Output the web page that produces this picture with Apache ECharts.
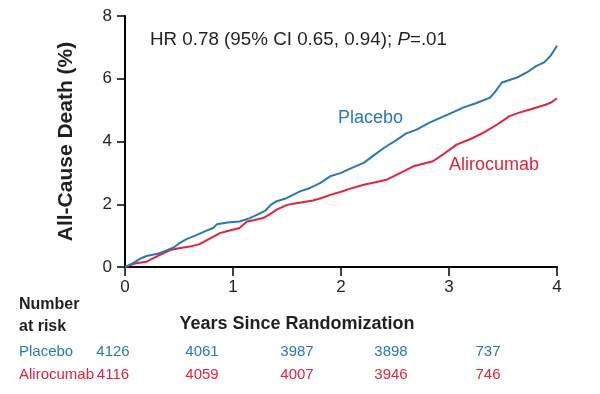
<!DOCTYPE html>
<html>
<head>
<meta charset="utf-8">
<script src="https://cdn.jsdelivr.net/npm/echarts@6/dist/echarts.min.js"></script>
<style>
html,body{margin:0;padding:0;background:#fff;}
#chart{width:600px;height:394px;}
</style>
</head>
<body>
<div id="chart"></div>
<script>
// ---- Data ----
var placeboCurve = [
  [0,0],[0.05,0.08],[0.1,0.18],[0.15,0.28],[0.2,0.35],[0.3,0.42],[0.39,0.54],[0.45,0.62],
  [0.5,0.75],[0.57,0.89],[0.65,1.0],[0.75,1.15],[0.82,1.25],[0.85,1.36],[0.95,1.42],[1.06,1.45],
  [1.15,1.55],[1.22,1.66],[1.3,1.8],[1.35,1.98],[1.4,2.09],[1.5,2.2],[1.62,2.41],[1.7,2.5],
  [1.81,2.68],[1.9,2.89],[2.0,3.0],[2.08,3.13],[2.21,3.32],[2.3,3.55],[2.4,3.8],[2.52,4.06],
  [2.6,4.25],[2.7,4.38],[2.82,4.6],[2.95,4.8],[3.05,4.95],[3.13,5.08],[3.25,5.22],[3.38,5.4],
  [3.43,5.6],[3.49,5.88],[3.63,6.04],[3.72,6.2],[3.81,6.41],[3.88,6.52],[3.94,6.73],[4.0,7.05]
];
var alirocumabCurve = [
  [0,0],[0.05,0.06],[0.1,0.12],[0.2,0.17],[0.3,0.35],[0.42,0.54],[0.5,0.6],[0.6,0.65],
  [0.69,0.73],[0.78,0.9],[0.88,1.08],[0.95,1.15],[1.06,1.24],[1.13,1.45],[1.2,1.5],[1.28,1.56],
  [1.35,1.7],[1.4,1.82],[1.5,1.98],[1.6,2.04],[1.74,2.12],[1.82,2.2],[1.9,2.3],[2.0,2.4],
  [2.08,2.49],[2.21,2.62],[2.32,2.7],[2.42,2.78],[2.55,3.0],[2.67,3.21],[2.77,3.3],[2.85,3.37],
  [2.95,3.6],[3.07,3.9],[3.2,4.08],[3.32,4.28],[3.45,4.55],[3.56,4.81],[3.65,4.92],[3.75,5.02],
  [3.9,5.18],[3.95,5.25],[4.0,5.38]
];
var seriesNames = ['Placebo', 'Alirocumab'];
var riskPlacebo = [4126, 4061, 3987, 3898, 737];
var riskAlirocumab = [4116, 4059, 4007, 3946, 746];
var hrText = ['HR 0.78 (95% CI 0.65, 0.94); ', 'P', '=.01'];
var yAxisTitle = 'All-Cause Death (%)';
var xAxisTitle = 'Years Since Randomization';
var riskHeader = ['Number', 'at risk'];

// ---- Style / layout ----
var BLUE = '#2878b8';
var RED = '#e2233b';
var TXT = '#231f20';
var FONT = '"Liberation Sans", Arial, sans-serif';
var riskColX = [113, 202, 297, 391, 488];

var chart = echarts.init(document.getElementById('chart'), null, {renderer: 'canvas'});

var graphics = [
  {type:'text', left: 338, top: 109, style:{text: seriesNames[0], fill: BLUE, font: '18px ' + FONT}},
  {type:'text', left: 449, top: 156, style:{text: seriesNames[1], fill: RED, font: '18px ' + FONT}},
  {type:'text', x: 297, y: 324, style:{text: xAxisTitle, fill: TXT, font: 'bold 18px ' + FONT, align:'center', verticalAlign:'middle'}},
  {type:'text', x: 19, y: 305, style:{text: riskHeader[0], fill: TXT, font: 'bold 16px ' + FONT, verticalAlign:'middle'}},
  {type:'text', x: 19, y: 327, style:{text: riskHeader[1], fill: TXT, font: 'bold 16px ' + FONT, verticalAlign:'middle'}},
  {type:'text', x: 19, y: 352, style:{text: seriesNames[0], fill: BLUE, font: '15px ' + FONT, verticalAlign:'middle'}},
  {type:'text', x: 19, y: 375, style:{text: seriesNames[1], fill: RED, font: '15px ' + FONT, verticalAlign:'middle'}}
];
riskPlacebo.forEach(function(v, i){
  graphics.push({type:'text', x: riskColX[i], y: 352, style:{text: String(v), fill: BLUE, font: '15px ' + FONT, align:'center', verticalAlign:'middle'}});
});
riskAlirocumab.forEach(function(v, i){
  graphics.push({type:'text', x: riskColX[i], y: 375, style:{text: String(v), fill: RED, font: '15px ' + FONT, align:'center', verticalAlign:'middle'}});
});

var option = {
  backgroundColor: '#fff',
  animation: false,
  title: {
    left: 145, top: 25,
    text: '{a|' + hrText[0] + '}{b|' + hrText[1] + '}{a|' + hrText[2] + '}',
    textStyle: {
      fontWeight: 'normal',
      rich: {
        a: {fontSize: 18.8, color: TXT, fontFamily: FONT, fontWeight: 'normal'},
        b: {fontSize: 18.8, color: TXT, fontFamily: FONT, fontWeight: 'normal', fontStyle: 'italic'}
      }
    }
  },
  grid: {left: 125, right: 43, top: 16, bottom: 127},
  xAxis: {
    type: 'value', min: 0, max: 4, interval: 1,
    axisLine: {show: true, onZero: false, lineStyle: {color: '#000', width: 2}},
    axisTick: {show: true, length: 9, lineStyle: {color: '#000', width: 1.5}},
    axisLabel: {color: TXT, fontSize: 17, fontFamily: FONT, margin: 12},
    splitLine: {show: false}
  },
  yAxis: {
    type: 'value', min: 0, max: 8, interval: 2,
    name: yAxisTitle, nameLocation: 'middle', nameGap: 48,
    nameTextStyle: {color: TXT, fontSize: 21, fontWeight: 'bold', fontFamily: FONT},
    axisLine: {show: true, lineStyle: {color: '#000', width: 2}},
    axisTick: {show: true, length: 8, lineStyle: {color: '#000', width: 1.5}},
    axisLabel: {color: TXT, fontSize: 17, fontFamily: FONT, margin: 13},
    splitLine: {show: false}
  },
  series: [
    {name: seriesNames[0], type: 'line', data: placeboCurve, showSymbol: false,
     lineStyle: {color: BLUE, width: 2}, itemStyle: {color: BLUE}, z: 3},
    {name: seriesNames[1], type: 'line', data: alirocumabCurve, showSymbol: false,
     lineStyle: {color: RED, width: 2}, itemStyle: {color: RED}, z: 2}
  ],
  graphic: graphics
};
chart.setOption(option);
</script>
</body>
</html>
